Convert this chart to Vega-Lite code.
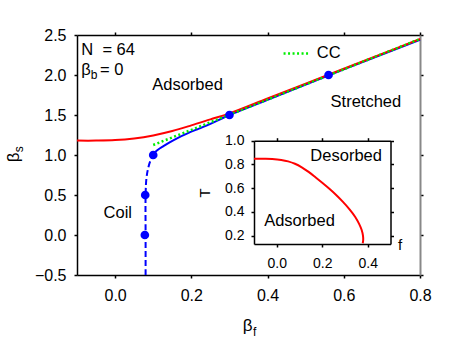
{
  "$schema": "https://vega.github.io/schema/vega-lite/v6.json",
  "width": 343,
  "height": 240,
  "autosize": {"type": "none"},
  "padding": {"left": 77, "top": 35, "right": 51, "bottom": 67},
  "background": "white",
  "config": {
    "view": {"stroke": null},
    "font": "Liberation Sans",
    "axis": {"grid": false, "labelFont": "Liberation Sans", "labelColor": "black", "domainColor": "black", "tickColor": "black", "labelFlush": false, "labelOverlap": false, "domainWidth": 1.5, "tickWidth": 1.5, "tickSize": 3}
  },
  "datasets": {
    "red": [
      {"x": -0.1, "y": 1.18}, {"x": -0.05, "y": 1.18}, {"x": 0.0, "y": 1.186}, {"x": 0.05, "y": 1.207},
      {"x": 0.1, "y": 1.245}, {"x": 0.15, "y": 1.3}, {"x": 0.2, "y": 1.37}, {"x": 0.25, "y": 1.445},
      {"x": 0.3, "y": 1.52}, {"x": 0.4, "y": 1.706}, {"x": 0.5, "y": 1.892}, {"x": 0.6, "y": 2.078},
      {"x": 0.7, "y": 2.264}, {"x": 0.8, "y": 2.45}
    ],
    "blue": [
      {"x": 0.1, "y": 1.0}, {"x": 0.105, "y": 1.035}, {"x": 0.115, "y": 1.075}, {"x": 0.125, "y": 1.105},
      {"x": 0.142, "y": 1.155}, {"x": 0.165, "y": 1.215}, {"x": 0.19, "y": 1.27}, {"x": 0.22, "y": 1.33},
      {"x": 0.25, "y": 1.39}, {"x": 0.3, "y": 1.5}, {"x": 0.4, "y": 1.69}, {"x": 0.5, "y": 1.88},
      {"x": 0.6, "y": 2.07}, {"x": 0.7, "y": 2.255}, {"x": 0.8, "y": 2.44}
    ],
    "blueDash": [
      {"i": 0, "x": 0.08, "y": -0.5}, {"i": 1, "x": 0.08, "y": 0.0}, {"i": 2, "x": 0.08, "y": 0.5},
      {"i": 3, "x": 0.082, "y": 0.7}, {"i": 4, "x": 0.086, "y": 0.82}, {"i": 5, "x": 0.092, "y": 0.92}, {"i": 6, "x": 0.1, "y": 1.0}
    ],
    "green": [{"x": 0.1, "y": 1.125}, {"x": 0.8, "y": 2.45}],
    "ccLegend": [{"x": 0.442, "y": 2.27}, {"x": 0.51, "y": 2.27}],
    "points": [
      {"x": 0.078, "y": 0.0}, {"x": 0.079, "y": 0.5}, {"x": 0.1, "y": 1.0}, {"x": 0.3, "y": 1.5}, {"x": 0.56, "y": 2.0}
    ],
    "labelsCenter": [
      {"x": 0.19, "y": 1.88, "text": "Adsorbed"},
      {"x": 0.658, "y": 1.66, "text": "Stretched"},
      {"x": 0.007, "y": 0.28, "text": "Coil"}
    ],
    "labelsLeft": [
      {"x": -0.0887, "y": 2.317, "text": "N \u00a0= 64"},
      {"x": -0.0887, "y": 2.06, "text": "β"},
      {"x": -0.0395, "y": 2.06, "text": "= 0"},
      {"x": 0.529, "y": 2.27, "text": "CC"}
    ],
    "subLeft": [
      {"x": -0.064, "y": 1.995, "text": "b"}
    ],
    "xTitle": [{"x": 0.348, "y": -1.141, "text": "β"}],
    "xTitleSub": [{"x": 0.366, "y": -1.216, "text": "f"}],
    "yTitle": [{"x": -0.264, "y": 0.971, "text": "β"}],
    "yTitleSub": [{"x": -0.252, "y": 1.071, "text": "s"}],
    "insetRed": [
      {"i": 0, "f": -0.1, "T": 0.848}, {"i": 1, "f": -0.05, "T": 0.848}, {"i": 2, "f": -0.02, "T": 0.846},
      {"i": 3, "f": 0.02, "T": 0.838}, {"i": 4, "f": 0.05, "T": 0.826}, {"i": 5, "f": 0.08, "T": 0.806},
      {"i": 6, "f": 0.11, "T": 0.776}, {"i": 7, "f": 0.14, "T": 0.737}, {"i": 8, "f": 0.17, "T": 0.692},
      {"i": 9, "f": 0.2, "T": 0.645}, {"i": 10, "f": 0.23, "T": 0.597}, {"i": 11, "f": 0.26, "T": 0.545},
      {"i": 12, "f": 0.29, "T": 0.487}, {"i": 13, "f": 0.32, "T": 0.422}, {"i": 14, "f": 0.345, "T": 0.358},
      {"i": 15, "f": 0.362, "T": 0.3}, {"i": 16, "f": 0.373, "T": 0.25}, {"i": 17, "f": 0.379, "T": 0.2},
      {"i": 18, "f": 0.38, "T": 0.165}, {"i": 19, "f": 0.378, "T": 0.136}
    ],
    "insetLabels": [
      {"f": 0.305, "T": 0.874, "text": "Desorbed"},
      {"f": 0.1, "T": 0.324, "text": "Adsorbed"}
    ],
    "insetTitleT": [{"f": -0.315, "T": 0.56, "text": "T"}],
    "insetTitleF": [{"f": 0.542, "T": 0.122, "text": "f"}],
    "anchor": [{"x": 0, "y": 0}]
  },
  "layer": [
    {
      "encoding": {
        "x": {"field": "x", "type": "quantitative", "title": null,
              "scale": {"domain": [-0.1, 0.8], "nice": false, "zero": false},
              "axis": {"orient": "bottom", "values": [0, 0.2, 0.4, 0.6, 0.8], "format": ".1f", "labelFontSize": 16, "labelPadding": 9}},
        "y": {"field": "y", "type": "quantitative", "title": null,
              "scale": {"domain": [-0.5, 2.5], "nice": false, "zero": false},
              "axis": {"orient": "left", "values": [-0.5, 0, 0.5, 1, 1.5, 2, 2.5], "format": ".1f", "labelFontSize": 16, "labelPadding": 8}}
      },
      "layer": [
        {"data": {"name": "blue"}, "mark": {"type": "line", "color": "#0000ff", "strokeWidth": 2, "interpolate": "catmull-rom"}},
        {"data": {"name": "blueDash"}, "mark": {"type": "line", "color": "#0000ff", "strokeWidth": 2, "strokeDash": [6, 3], "interpolate": "catmull-rom"},
         "encoding": {"order": {"field": "i", "type": "quantitative"}}},
        {"data": {"name": "red"}, "mark": {"type": "line", "color": "#ff0000", "strokeWidth": 2, "interpolate": "catmull-rom"}},
        {"data": {"name": "green"}, "mark": {"type": "line", "color": "#00ee00", "strokeWidth": 2.5, "strokeDash": [2, 2.5]}},
        {"data": {"name": "ccLegend"}, "mark": {"type": "line", "color": "#00ee00", "strokeWidth": 2.5, "strokeDash": [2, 2.5]}},
        {"data": {"name": "points"}, "mark": {"type": "point", "filled": true, "color": "#0000ff", "size": 75, "opacity": 1}},
        {"data": {"name": "labelsCenter"}, "mark": {"type": "text", "fontSize": 16.5, "align": "center", "baseline": "middle", "color": "black"},
         "encoding": {"text": {"field": "text"}}},
        {"data": {"name": "labelsLeft"}, "mark": {"type": "text", "fontSize": 16.5, "align": "left", "baseline": "middle", "color": "black"},
         "encoding": {"text": {"field": "text"}}},
        {"data": {"name": "subLeft"}, "mark": {"type": "text", "fontSize": 12, "align": "left", "baseline": "middle", "color": "black"},
         "encoding": {"text": {"field": "text"}}},
        {"data": {"name": "xTitle"}, "mark": {"type": "text", "fontSize": 17, "align": "center", "baseline": "middle", "color": "black"},
         "encoding": {"text": {"field": "text"}}},
        {"data": {"name": "xTitleSub"}, "mark": {"type": "text", "fontSize": 12, "align": "center", "baseline": "middle", "color": "black"},
         "encoding": {"text": {"field": "text"}}},
        {"data": {"name": "yTitle"}, "mark": {"type": "text", "fontSize": 17, "align": "center", "baseline": "middle", "angle": 270, "color": "black"},
         "encoding": {"text": {"field": "text"}}},
        {"data": {"name": "yTitleSub"}, "mark": {"type": "text", "fontSize": 12, "align": "center", "baseline": "middle", "angle": 270, "color": "black"},
         "encoding": {"text": {"field": "text"}}}
      ]
    },
    {
      "data": {"name": "anchor"},
      "mark": {"type": "point", "opacity": 0},
      "encoding": {
        "x": {"field": "x", "type": "quantitative", "title": null,
              "scale": {"domain": [-0.1, 0.8], "nice": false, "zero": false},
              "axis": {"orient": "top", "values": [0, 0.2, 0.4, 0.6, 0.8], "labels": false}},
        "y": {"field": "y", "type": "quantitative", "title": null,
              "scale": {"domain": [-0.5, 2.5], "nice": false, "zero": false},
              "axis": {"orient": "right", "values": [-0.5, 0, 0.5, 1, 1.5, 2, 2.5], "labels": false, "domainColor": "#888888", "domainWidth": 2}}
      }
    },
    {
      "encoding": {
        "x": {"field": "f", "type": "quantitative", "title": null,
              "scale": {"domain": [-0.1, 0.5], "range": [177, 313.5], "nice": false, "zero": false},
              "axis": {"orient": "bottom", "offset": -31, "values": [0, 0.2, 0.4], "format": ".1f", "labelFontSize": 14, "labelPadding": 9}},
        "y": {"field": "T", "type": "quantitative", "title": null,
              "scale": {"domain": [0.13, 1.0], "range": [209, 105.7], "nice": false, "zero": false},
              "axis": {"orient": "left", "offset": -177, "values": [0.2, 0.4, 0.6, 0.8, 1.0], "format": ".1f", "labelFontSize": 14, "labelPadding": 7}}
      },
      "layer": [
        {"data": {"name": "insetRed"}, "mark": {"type": "line", "color": "#ff0000", "strokeWidth": 2, "interpolate": "catmull-rom"},
         "encoding": {"order": {"field": "i", "type": "quantitative"}}},
        {"data": {"name": "insetLabels"}, "mark": {"type": "text", "fontSize": 16.5, "align": "center", "baseline": "middle", "color": "black"},
         "encoding": {"text": {"field": "text"}}},
        {"data": {"name": "insetTitleT"}, "mark": {"type": "text", "fontSize": 15, "align": "center", "baseline": "middle", "angle": 270, "color": "black"},
         "encoding": {"text": {"field": "text"}}},
        {"data": {"name": "insetTitleF"}, "mark": {"type": "text", "fontSize": 15, "align": "center", "baseline": "middle", "color": "black"},
         "encoding": {"text": {"field": "text"}}}
      ]
    },
    {
      "data": {"name": "anchor"},
      "mark": {"type": "point", "opacity": 0},
      "encoding": {
        "x": {"field": "x", "type": "quantitative", "title": null,
              "scale": {"domain": [-0.1, 0.5], "range": [177, 313.5], "nice": false, "zero": false},
              "axis": {"orient": "top", "offset": -105.7, "values": [0, 0.2, 0.4], "labels": false}},
        "y": {"field": "y", "type": "quantitative", "title": null,
              "scale": {"domain": [0.13, 1.0], "range": [209, 105.7], "nice": false, "zero": false},
              "axis": {"orient": "right", "offset": -29.5, "values": [0.2, 0.4, 0.6, 0.8, 1.0], "labels": false}}
      }
    }
  ],
  "resolve": {"scale": {"x": "independent", "y": "independent"}, "axis": {"x": "independent", "y": "independent"}}
}
